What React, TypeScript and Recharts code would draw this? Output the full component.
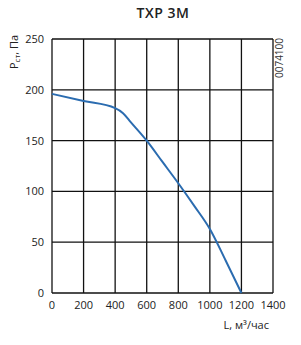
import React from 'react';
import {
  LineChart, Line, XAxis, YAxis, CartesianGrid, Label
} from 'recharts';

// airflow L, m3/h
const flow = [0, 200, 400, 450, 500, 600, 700, 800, 900, 1000, 1100, 1200];
// static pressure, Pa
const pressure = [196, 189, 182, 177, 168, 150, 129, 108, 86, 63, 32, 0];

const xTicks = [0, 200, 400, 600, 800, 1000, 1200, 1400];
const yTicks = [0, 50, 100, 150, 200, 250];

const chartData = flow.map((l, i) => ({ l, p: pressure[i] }));

const FONT = '"Open Sans", "Liberation Sans", sans-serif';
const tickStyle = { fontSize: 11, fill: '#222', fontFamily: FONT };

const App: React.FC = () => {
  return (
    <div style={{ position: 'absolute', left: 0, top: 0, width: 301, height: 345, background: '#fff' }}>
      <div
        style={{
          position: 'absolute', left: 0, top: 3, width: 326, textAlign: 'center',
          fontFamily: FONT, fontWeight: 600, fontSize: 14, color: '#222', letterSpacing: 0.5,
        }}
      >
        ТХР 3М
      </div>
      <LineChart
        width={301}
        height={345}
        data={chartData}
        margin={{ top: 39, right: 28, left: 12, bottom: 12 }}
      >
        <CartesianGrid
          stroke="#111"
          strokeWidth={1.3}
          verticalPoints={undefined}
        />
        <XAxis
          dataKey="l"
          type="number"
          domain={[0, 1400]}
          ticks={xTicks}
          axisLine={false}
          tickLine={false}
          tick={tickStyle}
          height={40}
          interval={0}
        >
          <Label
            content={() => (
              <text x={269} y={329} textAnchor="end" fontSize={11} fill="#222" fontFamily={FONT}>
                L, м³/час
              </text>
            )}
          />
        </XAxis>
        <YAxis
          type="number"
          domain={[0, 250]}
          ticks={yTicks}
          axisLine={false}
          tickLine={false}
          tick={tickStyle}
          width={40}
          interval={0}
        >
          <Label
            content={() => (
              <text
                x={18}
                y={52}
                textAnchor="middle"
                fontSize={11}
                fill="#222"
                fontFamily={FONT}
                transform="rotate(-90 18 52)"
              >
                Р<tspan fontSize={8} dy={2}>ст</tspan><tspan dy={-2}>, Па</tspan>
              </text>
            )}
          />
        </YAxis>
        <Line
          type="monotone"
          dataKey="p"
          stroke="#2b6cb0"
          strokeWidth={2}
          dot={false}
          isAnimationActive={false}
        />
      </LineChart>
      <svg style={{ position: 'absolute', left: 0, top: 0 }} width={301} height={345} pointerEvents="none">
        <text
          x={283}
          y={58}
          textAnchor="middle"
          fontSize={10}
          fill="#333"
          fontFamily={FONT}
          transform="rotate(-90 283 58)"
        >
          0074100
        </text>
      </svg>
    </div>
  );
};

export default App;
